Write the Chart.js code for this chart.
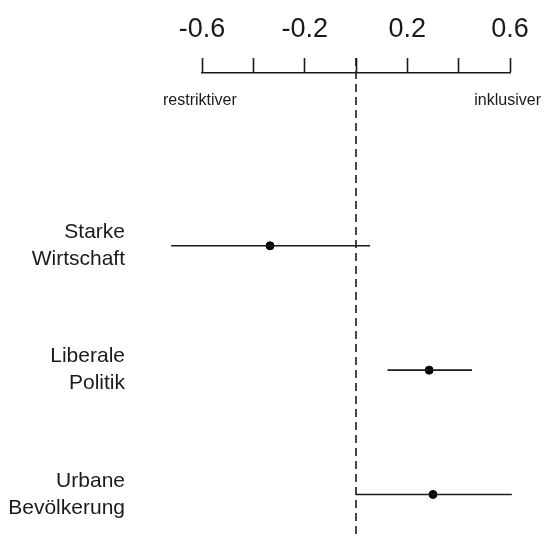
<!DOCTYPE html>
<html>
<head>
<meta charset="utf-8">
<title>Koeffizienten</title>
<style>
  html, body { margin: 0; padding: 0; background: #fff; }
  #wrap { width: 545px; height: 538px; }
</style>
</head>
<body>
<div id="wrap"><canvas id="coefChart" width="545" height="538"></canvas></div>
<script src="https://cdn.jsdelivr.net/npm/chart.js@4.4.0/dist/chart.umd.min.js"></script>
<script>
// data
const categories = [['Starke', 'Wirtschaft'], ['Liberale', 'Politik'], ['Urbane', 'Bevölkerung']];
const estimates = [-0.335, 0.285, 0.30];
const lower = [-0.72, 0.123, 0.0];
const upper = [0.055, 0.452, 0.607];
const xTicks = [-0.6, -0.4, -0.2, 0, 0.2, 0.4, 0.6];
const xTickLabels = ['-0.6', '', '-0.2', '', '0.2', '', '0.6'];
const sideLabels = ['restriktiver', 'inklusiver'];

const FONT = "'Liberation Sans', Arial, sans-serif";
const INK = '#1a1a1a';
const Y_MIN = -0.39, Y_MAX = 3.31;

var datasets = [];
// zero reference line, starts at the tick top
datasets.push({
  type: 'line',
  data: [{x: 0, y: -0.51}, {x: 0, y: 3.5}],
  borderColor: INK,
  borderWidth: 1.6,
  borderDash: [8, 5],
  pointRadius: 0,
  clip: false
});
// confidence intervals
categories.forEach(function(c, i) {
  datasets.push({
    type: 'line',
    data: [{x: lower[i], y: i + 1}, {x: upper[i], y: i + 1}],
    borderColor: INK,
    borderWidth: 1.6,
    pointRadius: 0,
    clip: false
  });
});
// point estimates
datasets.push({
  type: 'scatter',
  data: estimates.map(function(v, i) { return {x: v, y: i + 1}; }),
  backgroundColor: '#000',
  borderColor: '#000',
  pointRadius: 4,
  clip: false
});

const sideText = {
  id: 'sideText',
  afterDraw(chart) {
    const ctx = chart.ctx;
    const xs = chart.scales.x;
    ctx.save();
    ctx.fillStyle = INK;
    ctx.font = '16px ' + FONT;
    ctx.textBaseline = 'middle';
    ctx.textAlign = 'left';
    ctx.fillText(sideLabels[0], xs.getPixelForValue(-0.6) - 39, 101);
    ctx.textAlign = 'right';
    ctx.fillText(sideLabels[1], xs.getPixelForValue(0.6) + 31, 101);
    ctx.restore();
  }
};

new Chart(document.getElementById('coefChart').getContext('2d'), {
  type: 'scatter',
  data: { datasets: datasets },
  plugins: [sideText],
  options: {
    responsive: false,
    animation: false,
    layout: { padding: { left: 0, right: 35, top: 0, bottom: 0 } },
    plugins: { legend: { display: false }, tooltip: { enabled: false } },
    scales: {
      x: {
        type: 'linear',
        position: 'top',
        min: -0.6,
        max: 0.6,
        afterBuildTicks: function(axis) {
          axis.ticks = xTicks.map(function(v) { return {value: v}; });
        },
        afterFit: function(axis) {
          axis.height = 73;
          axis.paddingLeft = 0;
          axis.paddingRight = 0;
        },
        ticks: {
          autoSkip: false,
          maxRotation: 0,
          padding: 12,
          color: INK,
          font: { family: FONT, size: 27 },
          callback: function(v, i) { return xTickLabels[i]; }
        },
        grid: {
          drawOnChartArea: false,
          drawTicks: true,
          tickLength: 15,
          tickWidth: 1.6,
          tickColor: INK
        },
        border: { display: true, color: INK, width: 1.6 }
      },
      y: {
        type: 'linear',
        reverse: true,
        min: Y_MIN,
        max: Y_MAX,
        afterBuildTicks: function(axis) {
          axis.ticks = categories.map(function(c, i) { return {value: i + 1}; });
        },
        afterFit: function(axis) {
          axis.width = 202;
          axis.paddingTop = 0;
          axis.paddingBottom = 0;
        },
        ticks: {
          autoSkip: false,
          padding: 77,
          color: INK,
          font: { family: FONT, size: 21, lineHeight: 1.29 },
          callback: function(v) { return categories[Math.round(v) - 1]; }
        },
        grid: { display: false, drawTicks: false },
        border: { display: false }
      }
    }
  }
});
</script>
</body>
</html>
